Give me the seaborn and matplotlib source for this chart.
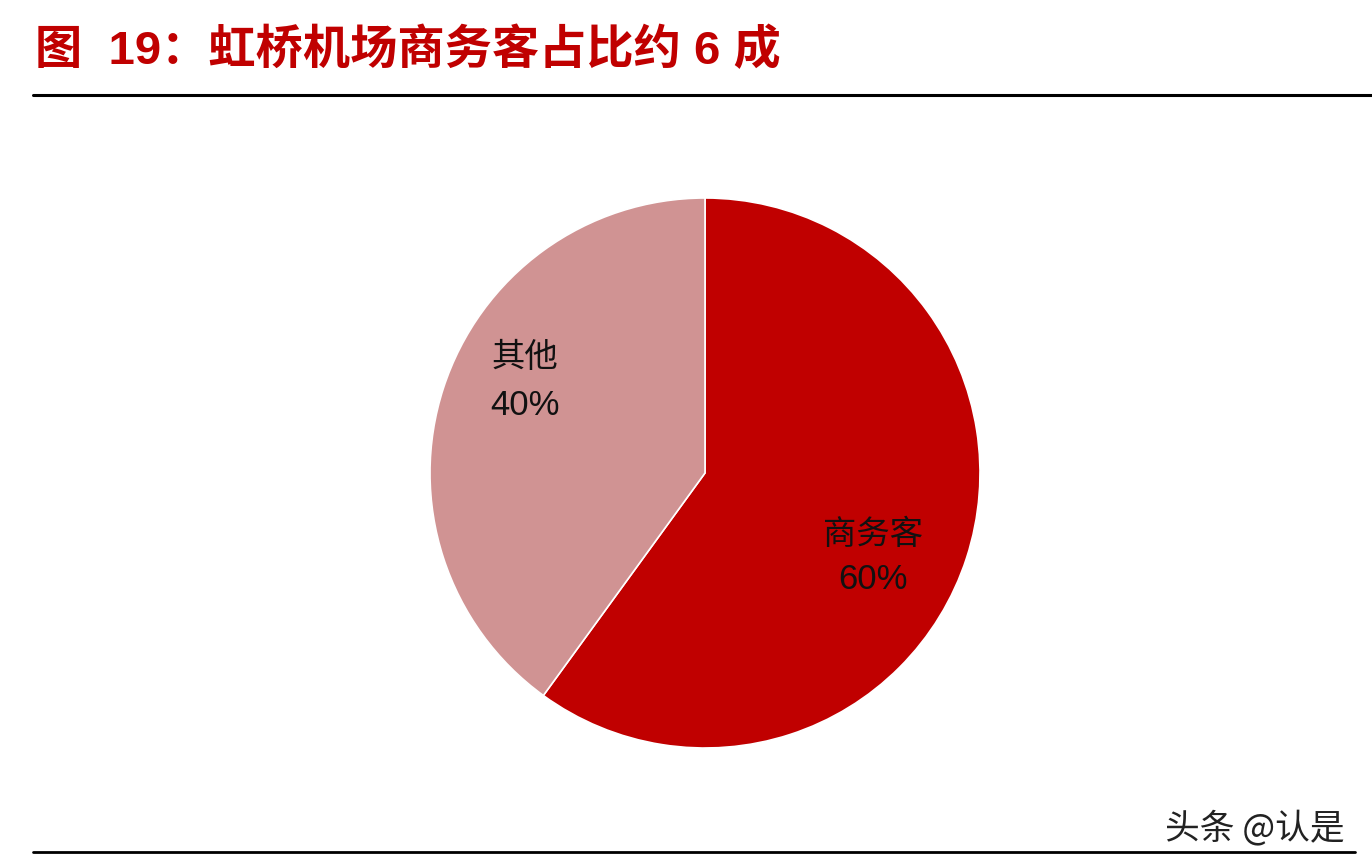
# 数据处理
import numpy as np
import pandas as pd

# 可视化
import seaborn as sns
import matplotlib
matplotlib.use("Agg")
import matplotlib.pyplot as plt
from matplotlib.lines import Line2D

# ------------------------------数据------------------------------
categorias = ["商务客", "其他"]
porcentajes = [60, 40]
colores = ["#C00000", "#D09393"]
titulo = "图  19：虹桥机场商务客占比约 6 成"
marca = "头条 @认是"

df = pd.DataFrame({"categoria": categorias, "pct": porcentajes})

# ------------------------------ESTILO------------------------------
sns.set_theme(style="white")
plt.rcParams["font.family"] = ["Noto Sans CJK SC", "DejaVu Sans"]

W, H = 1372, 868
fig = plt.figure(figsize=(W / 100, H / 100), dpi=100)
fig.patch.set_facecolor("white")

# Título
fig.text(35 / W, 1 - 51 / H, titulo, color="#C00000", fontsize=34,
         fontweight="bold", va="center", ha="left",
         family=["Liberation Sans", "Noto Sans CJK SC"])

# Líneas horizontales
fig.add_artist(Line2D([33 / W, 1.0], [1 - 95 / H] * 2, color="black", lw=2.2))
fig.add_artist(Line2D([33 / W, 1355 / W], [1 - 852 / H] * 2, color="black", lw=2.0))

# ------------------------------PIE------------------------------
cx, cy, r = 705, 473, 275
ax = fig.add_axes([(cx - r) / W, (H - cy - r) / H, 2 * r / W, 2 * r / H])
ax.pie(df["pct"], colors=colores, startangle=90, counterclock=False,
       radius=1, wedgeprops=dict(edgecolor="white", linewidth=1.2))
ax.set_xlim(-1, 1)
ax.set_ylim(-1, 1)
ax.set_aspect("equal")
ax.axis("off")

# Etiquetas (posición en coordenadas del pie)
pos_etiquetas = {"商务客": (0.611, -0.225, -0.389), "其他": (-0.655, 0.42, 0.247)}
for cat, pct in zip(df["categoria"], df["pct"]):
    x, y1, y2 = pos_etiquetas[cat]
    ax.text(x, y1, cat, ha="center", va="center", fontsize=24, color="#111111")
    ax.text(x, y2, f"{pct}%", ha="center", va="center", fontsize=25,
            color="#111111", family=["Liberation Sans", "DejaVu Sans"])

# Marca de agua
fig.text(1345 / W, 1 - 828 / H, marca, ha="right", va="center", fontsize=25,
         color="#222222")

fig.savefig("out.png", dpi=100, facecolor="white")
